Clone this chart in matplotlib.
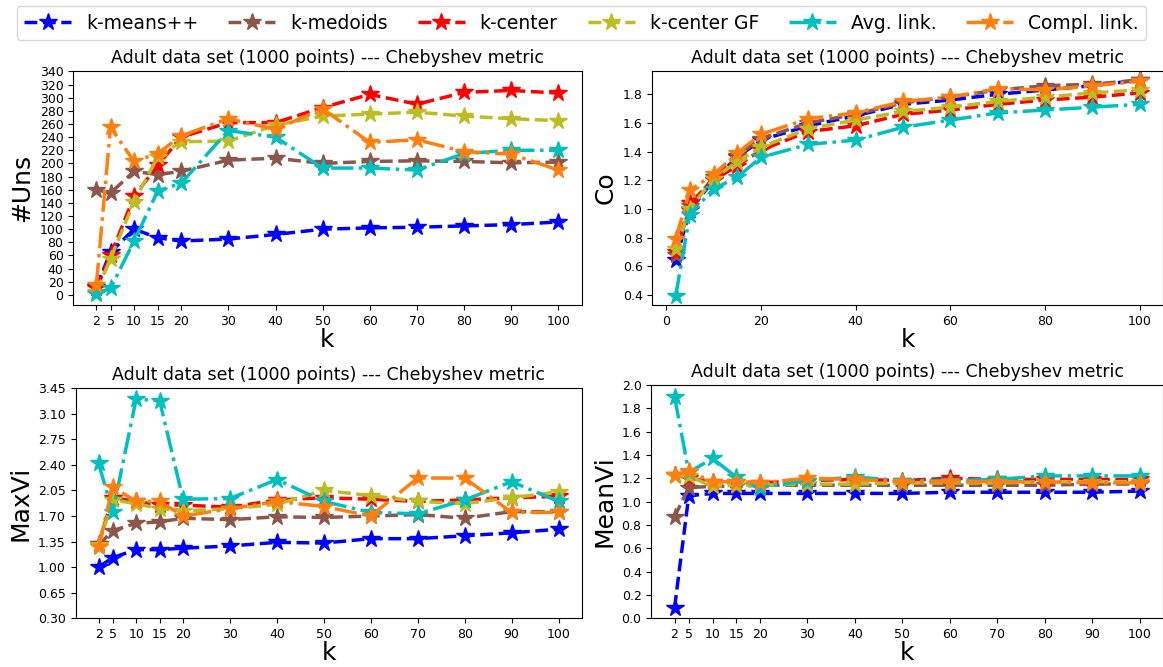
import matplotlib
matplotlib.use('Agg')
import matplotlib.pyplot as plt
import numpy as np

k_values = [2, 5, 10, 15, 20, 30, 40, 50, 60, 70, 80, 90, 100]
methods = ['k-means++', 'k-medoids', 'k-center', 'k-center GF', 'Avg. link.', 'Compl. link.']
colors = ['b', 'tab:brown', 'r', 'tab:olive', 'c', 'tab:orange']
styles = ['--', '--', '--', '--', '-.', '-.']

uns = [
    [12, 65, 100, 87, 82, 85, 92, 100, 102, 103, 105, 107, 111],
    [160, 155, 188, 183, 188, 205, 208, 200, 203, 204, 203, 201, 202],
    [10, 60, 150, 197, 240, 262, 262, 285, 305, 290, 308, 311, 307],
    [5, 55, 142, 210, 233, 234, 258, 272, 275, 278, 272, 268, 265],
    [2, 10, 82, 158, 170, 250, 240, 193, 193, 190, 215, 220, 220],
    [15, 255, 203, 215, 242, 268, 252, 283, 232, 236, 218, 214, 190],
]
co = [
    [0.64, 0.99, 1.2, 1.36, 1.48, 1.58, 1.65, 1.73, 1.76, 1.8, 1.83, 1.86, 1.9],
    [0.68, 1.02, 1.22, 1.37, 1.49, 1.6, 1.66, 1.74, 1.78, 1.83, 1.86, 1.87, 1.9],
    [0.7, 1.04, 1.2, 1.3, 1.41, 1.54, 1.58, 1.66, 1.69, 1.73, 1.76, 1.78, 1.81],
    [0.72, 1.0, 1.21, 1.33, 1.43, 1.56, 1.62, 1.68, 1.71, 1.75, 1.78, 1.81, 1.83],
    [0.39, 0.96, 1.14, 1.22, 1.36, 1.45, 1.48, 1.57, 1.62, 1.67, 1.69, 1.71, 1.73],
    [0.79, 1.13, 1.24, 1.39, 1.52, 1.63, 1.67, 1.75, 1.78, 1.84, 1.83, 1.86, 1.89],
]
maxvi = [
    [1.0, 1.13, 1.24, 1.24, 1.26, 1.29, 1.34, 1.33, 1.39, 1.39, 1.43, 1.47, 1.52],
    [1.3, 1.5, 1.6, 1.62, 1.67, 1.65, 1.69, 1.68, 1.7, 1.72, 1.67, 1.76, 1.76],
    [1.32, 1.95, 1.9, 1.85, 1.85, 1.82, 1.92, 1.95, 1.93, 1.9, 1.92, 1.95, 1.97],
    [1.3, 1.92, 1.87, 1.8, 1.77, 1.8, 1.86, 2.05, 1.98, 1.9, 1.87, 1.95, 2.03],
    [2.42, 1.75, 3.3, 3.28, 1.93, 1.94, 2.2, 1.9, 1.75, 1.73, 1.92, 2.17, 1.9],
    [1.27, 2.1, 1.9, 1.9, 1.7, 1.8, 1.9, 1.83, 1.7, 2.22, 2.22, 1.75, 1.75],
]
meanvi = [
    [0.09, 1.05, 1.07, 1.07, 1.07, 1.07, 1.07, 1.07, 1.08, 1.08, 1.08, 1.08, 1.09],
    [0.87, 1.12, 1.13, 1.13, 1.14, 1.14, 1.14, 1.14, 1.14, 1.14, 1.14, 1.15, 1.15],
    [1.23, 1.2, 1.17, 1.17, 1.16, 1.18, 1.19, 1.18, 1.2, 1.19, 1.19, 1.19, 1.19],
    [1.22, 1.22, 1.13, 1.14, 1.14, 1.15, 1.15, 1.16, 1.16, 1.16, 1.17, 1.17, 1.17],
    [1.9, 1.25, 1.37, 1.21, 1.12, 1.18, 1.21, 1.18, 1.18, 1.19, 1.22, 1.22, 1.22],
    [1.23, 1.26, 1.17, 1.17, 1.16, 1.2, 1.19, 1.17, 1.17, 1.17, 1.17, 1.16, 1.16],
]

title = 'Adult data set (1000 points) --- Chebyshev metric'

fig = plt.figure(figsize=(11.63, 6.67), dpi=100)
ax_uns = fig.add_axes([0.063, 0.543, 0.437, 0.35])
ax_co = fig.add_axes([0.561, 0.543, 0.439, 0.35])
ax_max = fig.add_axes([0.065, 0.073, 0.435, 0.345])
ax_mean = fig.add_axes([0.56, 0.073, 0.44, 0.35])

panels = [
    (ax_uns, uns, '#Uns', True, np.arange(0, 341, 20), (-15, 340)),
    (ax_co, co, 'Co', False, None, (0.33, 1.96)),
    (ax_max, maxvi, 'MaxVi', True, np.arange(0.30, 3.46, 0.35), (0.30, 3.45)),
    (ax_mean, meanvi, 'MeanVi', True, np.arange(0, 2.01, 0.2), (0, 2.0)),
]

for ax, data, ylabel, kticks, yticks, ylim in panels:
    for i, m in enumerate(methods):
        ax.plot(k_values, data[i], linestyle=styles[i], color=colors[i], marker='*',
                markersize=13, linewidth=2.5, label=m)
    ax.set_title(title, fontsize=12.5)
    ax.set_xlabel('k', fontsize=18, labelpad=0)
    ax.set_ylabel(ylabel, fontsize=18)
    if kticks:
        ax.set_xticks(k_values)
    if yticks is not None:
        ax.set_yticks(yticks)
        if ylabel == 'MaxVi':
            ax.set_yticklabels(['%.2f' % v for v in yticks])
    ax.set_ylim(*ylim)
    ax.tick_params(labelsize=9)

handles, labels = ax_uns.get_legend_handles_labels()
fig.legend(handles, labels, loc='upper center', ncol=6, fontsize=13.5,
           bbox_to_anchor=(0.5, 1.005), handlelength=2.5, columnspacing=1.6)

fig.savefig('out.png')
